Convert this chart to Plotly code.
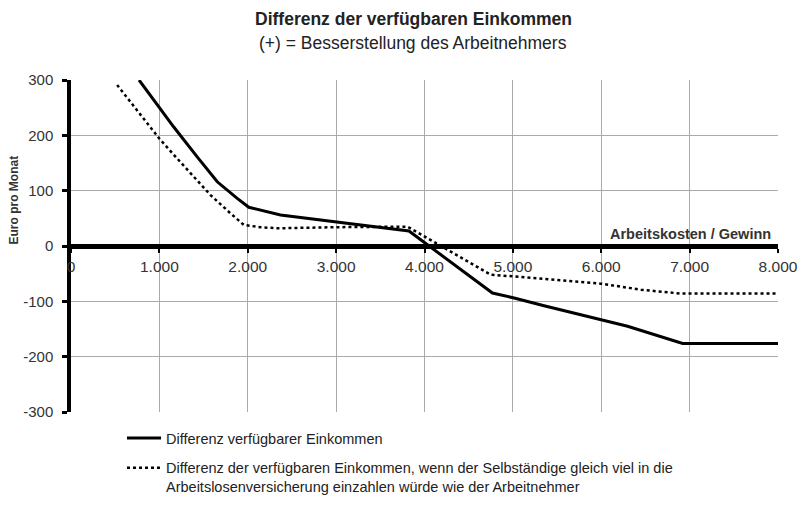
import plotly.graph_objects as go

# Data
solid_x = [770, 1012, 1163, 1428, 1655, 1881, 2012, 2371, 2900, 3824, 4769, 5014, 5353, 6015, 6298, 6921, 8000]
solid_y = [300, 248, 215, 161, 116, 86, 70, 56, 45, 27, -85, -94, -108, -133, -145, -176, -176]

dot_x = [522, 1000, 1202, 1390, 1579, 1805, 1956, 2145, 2334, 3013, 3806, 4750, 5014, 5995, 6448, 6901, 8000]
dot_y = [291, 194, 158, 125, 92, 59, 38, 34, 32, 34, 35, -52, -55, -68, -79, -86, -86]

x_ticks = [0, 1000, 2000, 3000, 4000, 5000, 6000, 7000, 8000]
x_labels = ["0", "1.000", "2.000", "3.000", "4.000", "5.000", "6.000", "7.000", "8.000"]
y_ticks = [-300, -200, -100, 0, 100, 200, 300]
y_labels = ["-300", "-200", "-100", "0", "100", "200", "300"]

name1 = "Differenz verfügbarer Einkommen"
name2 = ("Differenz der verfügbaren Einkommen, wenn der Selbständige gleich viel in die<br>"
         "Arbeitslosenversicherung einzahlen würde wie der Arbeitnehmer")

FONT = "Liberation Sans, Arial, sans-serif"
TXT = "#222222"

fig = go.Figure()
fig.add_trace(go.Scatter(x=solid_x, y=solid_y, mode="lines", name=name1,
                         legendgroup="a", hoverinfo="skip",
                         line=dict(color="black", width=3)))
fig.add_trace(go.Scatter(x=dot_x, y=dot_y, mode="lines", name=name2,
                         legendgroup="b", hoverinfo="skip",
                         line=dict(color="black", width=2.5, dash="3px,3px")))

fig.update_layout(
    width=798, height=506,
    margin=dict(l=71, r=20, t=80, b=94, autoexpand=False),
    paper_bgcolor="white", plot_bgcolor="white",
    font=dict(family=FONT, color=TXT, size=14),
    hovermode=False,
    showlegend=True,
    legend=dict(x=(122 - 71) / 707, y=-0.03, xanchor="left", yanchor="top",
                orientation="v", tracegroupgap=8, valign="top",
                font=dict(size=14.5, family=FONT, color=TXT),
                bgcolor="rgba(0,0,0,0)", itemwidth=34),
    xaxis=dict(range=[0, 8000], tickvals=x_ticks, ticktext=x_labels,
               anchor="free", position=0.5, automargin=False,
               ticklabeloverflow="allow",
               showline=True, linecolor="black", linewidth=5,
               ticks="outside", ticklen=4, tickwidth=2, tickcolor="black",
               tickfont=dict(size=15.5, family=FONT, color="#333333"),
               showgrid=True, gridcolor="#aaaaaa", gridwidth=1,
               zeroline=False),
    yaxis=dict(range=[-300, 300], tickvals=y_ticks, ticktext=y_labels,
               automargin=False,
               showline=True, linecolor="black", linewidth=3.5,
               ticks="outside", ticklen=5, tickwidth=2.5, tickcolor="black",
               ticklabelstandoff=6,
               tickfont=dict(size=15, family=FONT, color="#333333"),
               showgrid=True, gridcolor="#aaaaaa", gridwidth=1,
               zeroline=False),
    annotations=[
        dict(text="<b>Differenz der verfügbaren Einkommen</b>", xref="paper", yref="paper",
             x=(413 - 71) / 707, y=1, yshift=61, xanchor="center", yanchor="middle",
             showarrow=False, font=dict(size=17.5, family=FONT, color=TXT)),
        dict(text="(+) = Besserstellung des Arbeitnehmers", xref="paper", yref="paper",
             x=(413 - 71) / 707, y=1, yshift=37, xanchor="center", yanchor="middle",
             showarrow=False, font=dict(size=17.5, family=FONT, color=TXT)),
        dict(text="<b>Arbeitskosten / Gewinn</b>", xref="paper", yref="paper",
             x=1, y=0.5, xshift=-5, yshift=12, xanchor="right", yanchor="middle",
             showarrow=False, font=dict(size=14.5, family=FONT, color="#333333")),
        dict(text="<b>Euro pro Monat</b>", xref="paper", yref="paper",
             x=0, y=0.5, xshift=-57.5, yshift=46, textangle=-90,
             xanchor="center", yanchor="middle",
             showarrow=False, font=dict(size=12, family=FONT, color="#333333")),
    ],
)

fig.write_html("out.html", config={"displayModeBar": False},
               post_script="document.body.style.margin='0';")
